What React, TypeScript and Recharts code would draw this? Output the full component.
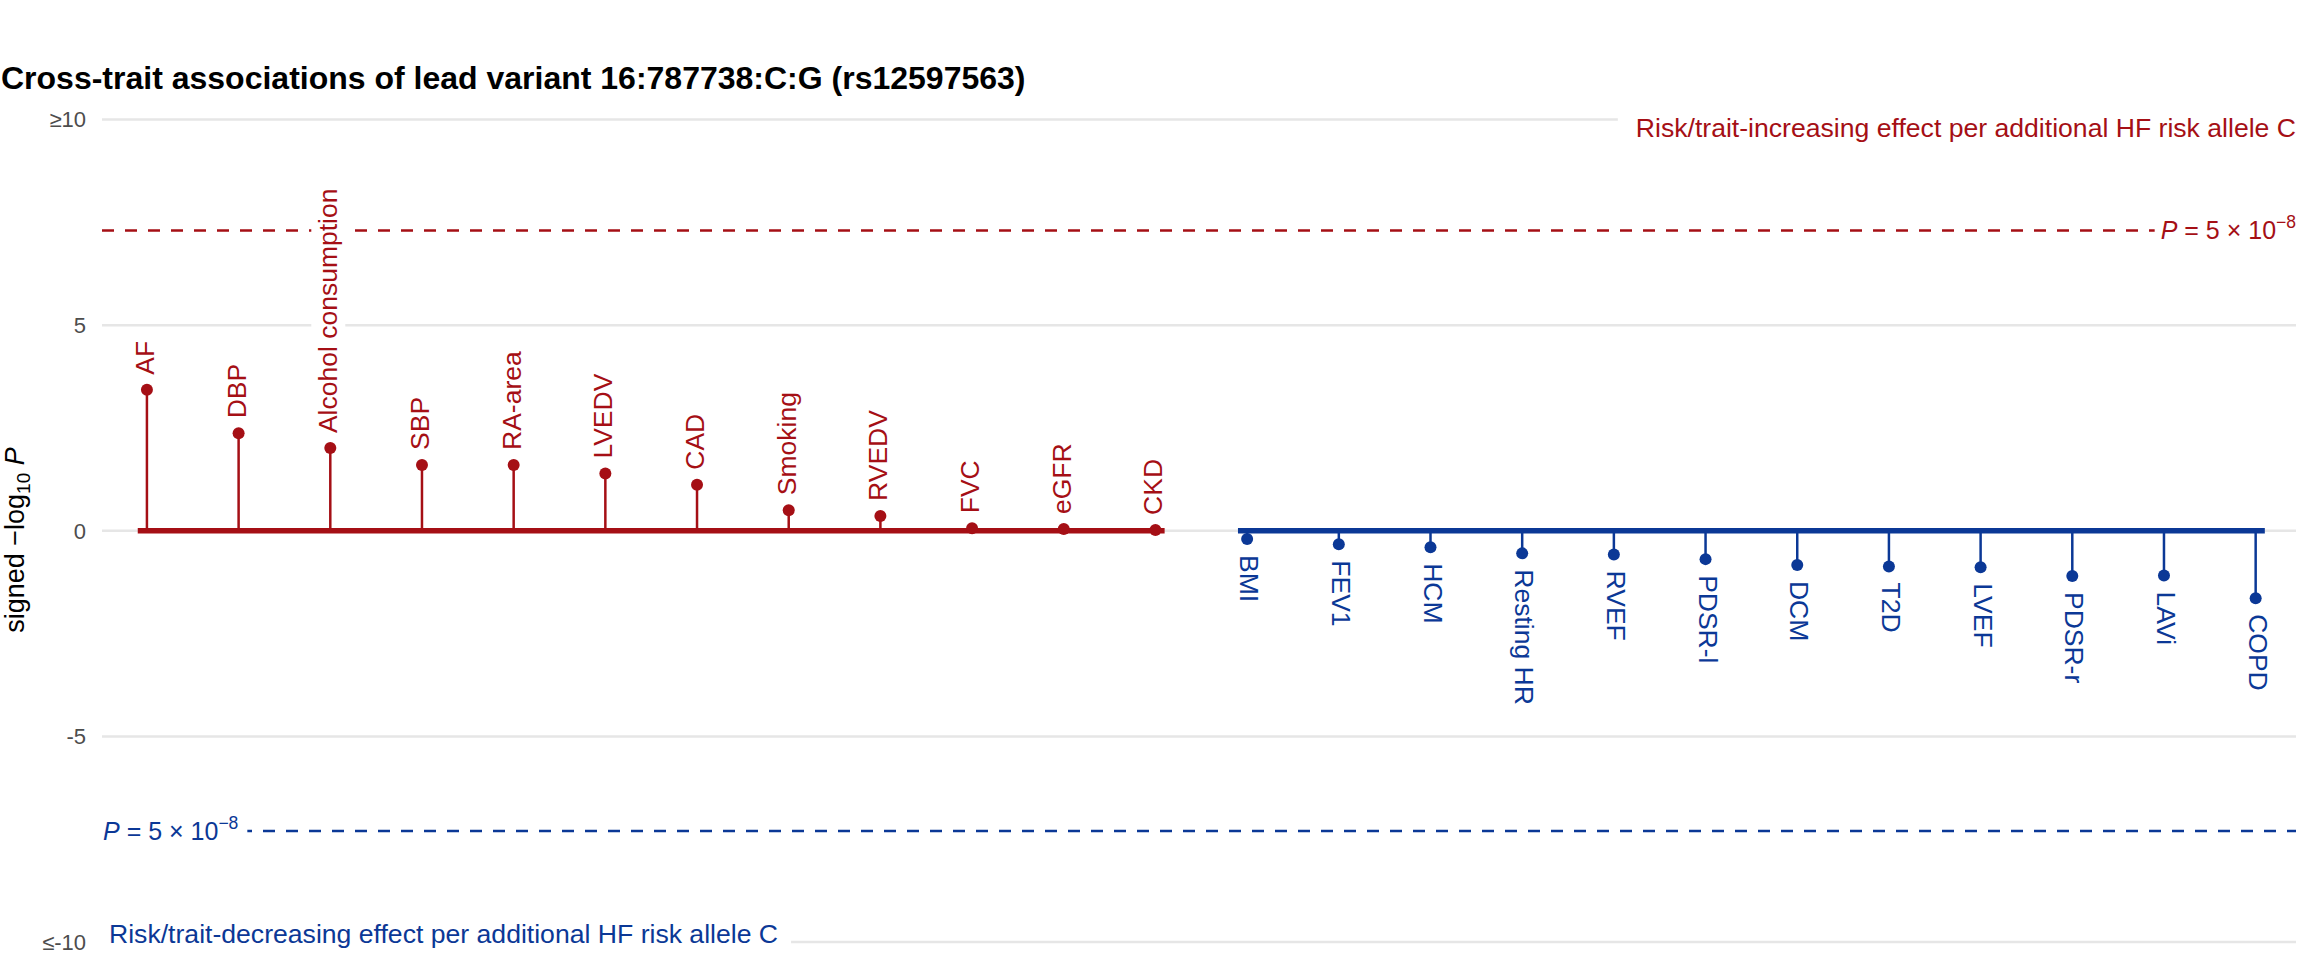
import {
  ComposedChart,
  Scatter,
  XAxis,
  YAxis,
  CartesianGrid,
  ReferenceLine,
  ReferenceDot,
} from 'recharts'

// traits with a risk/trait-increasing effect (red, above zero)
const upTraits = ['AF', 'DBP', 'Alcohol consumption', 'SBP', 'RA-area', 'LVEDV', 'CAD', 'Smoking', 'RVEDV', 'FVC', 'eGFR', 'CKD']
const upValues = [3.43, 2.37, 2.01, 1.6, 1.6, 1.39, 1.12, 0.5, 0.36, 0.06, 0.04, 0.02]

// traits with a risk/trait-decreasing effect (blue, below zero)
const downTraits = ['BMI', 'FEV1', 'HCM', 'Resting HR', 'RVEF', 'PDSR-l', 'DCM', 'T2D', 'LVEF', 'PDSR-r', 'LAVi', 'COPD']
const downValues = [-0.2, -0.33, -0.4, -0.55, -0.58, -0.69, -0.83, -0.87, -0.89, -1.1, -1.09, -1.64]

const yTicks = [-10, -5, 0, 5, 10]
const yTickLabels = ['≤-10', '-5', '0', '5', '≥10']
const thresholdP = 5e-8

const title = 'Cross-trait associations of lead variant 16:787738:C:G (rs12597563)'
const upNote = 'Risk/trait-increasing effect per additional HF risk allele C'
const downNote = 'Risk/trait-decreasing effect per additional HF risk allele C'

const RED = '#A50F15'
const BLUE = '#0B3896'
const GRID = '#E6E6E6'
const FONT = '"Liberation Sans", Arial, Helvetica, sans-serif'
const LABEL_SIZE = 26.5
const NOTE_SIZE = 26.6
const P_SIZE = 25

const X_MIN = -0.49
const X_MAX = 23.44

const points = [
  ...upTraits.map((trait, k) => ({ i: k, v: upValues[k], trait })),
  ...downTraits.map((trait, k) => ({ i: upTraits.length + k, v: downValues[k], trait })),
]
const threshold = -Math.log10(thresholdP)

let ctx: CanvasRenderingContext2D | null = null
function textWidth(s: string, size: number, style = '') {
  if (!ctx) ctx = document.createElement('canvas').getContext('2d')
  if (!ctx) return s.length * size * 0.5
  ctx.font = `${style} ${size}px "Liberation Sans"`
  return ctx.measureText(s).width
}

function Lollipop(props: any) {
  const { cx, cy, payload } = props
  if (cx == null || cy == null) return null
  const up = payload.v >= 0
  const color = up ? RED : BLUE
  const w = textWidth(payload.trait, LABEL_SIZE)
  const start = up ? cy - 15 : cy + 16
  const tx = up ? cx - 2 : cx + 2
  return (
    <g>
      <rect
        x={tx - 17}
        y={up ? start - w - 5 : start - 5}
        width={34}
        height={w + 10}
        fill="#fff"
      />
      <circle cx={cx} cy={cy} r={6} fill={color} />
      <text
        transform={`translate(${tx},${start}) rotate(${up ? -90 : 90})`}
        textAnchor="start"
        dominantBaseline="central"
        fontSize={LABEL_SIZE}
        fontFamily={FONT}
        fill={color}
      >
        {payload.trait}
      </text>
    </g>
  )
}

function pLabelWidth() {
  return (
    textWidth('P', P_SIZE, 'italic') +
    textWidth(' = 5 × 10', P_SIZE) +
    textWidth('−8', P_SIZE * 0.7)
  )
}

function PText({ x, y, color, anchor }: { x: number; y: number; color: string; anchor: 'start' | 'end' }) {
  return (
    <text x={x} y={y + 9} textAnchor={anchor} fontSize={P_SIZE} fontFamily={FONT} fill={color}>
      <tspan fontStyle="italic">P</tspan>
      <tspan> = 5 × 10</tspan>
      <tspan dy={-11} fontSize={P_SIZE * 0.7}>−8</tspan>
    </text>
  )
}

function UpThresholdLabel(props: any) {
  const { cx, cy } = props
  const w = pLabelWidth()
  return (
    <g>
      <rect x={cx - w - 6} y={cy - 18} width={w + 8} height={36} fill="#fff" />
      <PText x={cx} y={cy} color={RED} anchor="end" />
    </g>
  )
}

function DownThresholdLabel(props: any) {
  const { cx, cy } = props
  const w = pLabelWidth()
  return (
    <g>
      <rect x={cx - 2} y={cy - 18} width={w + 12} height={36} fill="#fff" />
      <PText x={cx + 1} y={cy} color={BLUE} anchor="start" />
    </g>
  )
}

function UpNote(props: any) {
  const { cx, cy } = props
  const w = textWidth(upNote, NOTE_SIZE)
  return (
    <g>
      <rect x={cx - w - 18} y={cy - 6} width={w + 20} height={30} fill="#fff" />
      <text x={cx} y={cy + 8} textAnchor="end" dominantBaseline="central" fontSize={NOTE_SIZE} fontFamily={FONT} fill={RED}>
        {upNote}
      </text>
    </g>
  )
}

function DownNote(props: any) {
  const { cx, cy } = props
  const w = textWidth(downNote, NOTE_SIZE)
  return (
    <g>
      <rect x={cx - 2} y={cy - 24} width={w + 22} height={30} fill="#fff" />
      <text x={cx + 7} y={cy - 8} textAnchor="start" dominantBaseline="central" fontSize={NOTE_SIZE} fontFamily={FONT} fill={BLUE}>
        {downNote}
      </text>
    </g>
  )
}

export default function App() {
  const upStart = 0
  const upEnd = upTraits.length - 1
  const downStart = upTraits.length
  const downEnd = points.length - 1

  return (
    <div
      style={{
        position: 'absolute',
        left: 0,
        top: 0,
        width: 2304,
        height: 960,
        background: '#fff',
        fontFamily: FONT,
      }}
    >
      <ComposedChart
        width={2304}
        height={960}
        data={points}
        margin={{ top: 119.5, right: 8, bottom: 18, left: 0 }}
      >
        <CartesianGrid horizontal vertical={false} stroke={GRID} strokeWidth={2.5} />
        <XAxis type="number" dataKey="i" domain={[X_MIN, X_MAX]} allowDataOverflow hide />
        <YAxis
          type="number"
          domain={[-10, 10]}
          ticks={yTicks}
          interval={0}
          allowDataOverflow
          axisLine={false}
          tickLine={false}
          width={102}
          tickMargin={10}
          tickFormatter={(v: number) => yTickLabels[yTicks.indexOf(v)]}
          tick={{ fontSize: 22, fill: '#4D4D4D', fontFamily: FONT }}
        />

        {points.map((p) => (
          <ReferenceLine
            key={`stem-${p.i}`}
            segment={[
              { x: p.i, y: 0 },
              { x: p.i, y: p.v },
            ]}
            stroke={p.v >= 0 ? RED : BLUE}
            strokeWidth={2.5}
            ifOverflow="visible"
          />
        ))}
        <ReferenceLine
          segment={[
            { x: upStart - 0.1, y: 0 },
            { x: upEnd + 0.1, y: 0 },
          ]}
          stroke={RED}
          strokeWidth={5.5}
          ifOverflow="visible"
        />
        <ReferenceLine
          segment={[
            { x: downStart - 0.1, y: 0 },
            { x: downEnd + 0.1, y: 0 },
          ]}
          stroke={BLUE}
          strokeWidth={5.5}
          ifOverflow="visible"
        />

        <Scatter dataKey="v" shape={<Lollipop />} isAnimationActive={false} />

        <ReferenceLine y={threshold} stroke={RED} strokeWidth={2.5} strokeDasharray="12 11" />
        <ReferenceLine y={-threshold} stroke={BLUE} strokeWidth={2.5} strokeDasharray="12 11" />

        <ReferenceDot x={X_MAX} y={threshold} ifOverflow="visible" shape={<UpThresholdLabel />} />
        <ReferenceDot x={X_MIN} y={-threshold} ifOverflow="visible" shape={<DownThresholdLabel />} />
        <ReferenceDot x={X_MAX} y={10} ifOverflow="visible" shape={<UpNote />} />
        <ReferenceDot x={X_MIN} y={-10} ifOverflow="visible" shape={<DownNote />} />
      </ComposedChart>

      <svg
        width={2304}
        height={960}
        style={{ position: 'absolute', left: 0, top: 0, pointerEvents: 'none' }}
      >
        <text x={1} y={89} fontSize={32} fontWeight="bold" fontFamily={FONT} fill="#000">
          {title}
        </text>
        <text
          transform="translate(24,540) rotate(-90)"
          textAnchor="middle"
          fontSize={27}
          fontFamily={FONT}
          fill="#000"
        >
          <tspan>signed  −log</tspan>
          <tspan dy={6} fontSize={19}>10</tspan>
          <tspan dy={-6}> </tspan>
          <tspan fontStyle="italic">P</tspan>
        </text>
      </svg>
    </div>
  )
}
